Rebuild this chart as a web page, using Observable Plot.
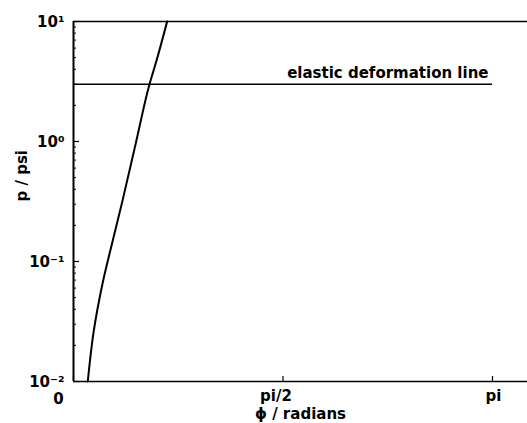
<!DOCTYPE html>
<html>
<head>
<meta charset="utf-8">
<script src="https://cdn.jsdelivr.net/npm/d3@7"></script>
<script src="https://cdn.jsdelivr.net/npm/@observablehq/plot@0.6"></script>
<style>
  html, body { margin: 0; padding: 0; background: #fff; }
  svg { display: block; }
</style>
</head>
<body>
<div id="chart"></div>
<script>
// Curve: pressure p (psi) versus angle phi (radians)
const curvePhi = [0.107, 0.152, 0.217, 0.294, 0.367, 0.470, 0.570, 0.622, 0.702];
const curveP   = [0.01, 0.0264, 0.065, 0.149, 0.32, 1.0, 3.0, 4.7, 10];
// Elastic deformation line
const elasticP = 3.0;
const elasticPhiEnd = Math.PI;
const elasticLabel = "elastic deformation line";
// Axis ticks
const yTicks = [0.01, 0.1, 1, 10];
const yTickLabels = ["10\u207B\u00B2", "10\u207B\u00B9", "10\u2070", "10\u00B9"];
const xTicks = [0, Math.PI / 2, Math.PI];
const xTickLabels = ["0", "pi/2", "pi"];
const xLabel = "\u03D5 / radians";
const yLabel = "p / psi";

const curve = curvePhi.map((x, i) => ({x, y: curveP[i]}));
const yMinor = [];
for (let e = -2; e < 1; e++) for (let m = 2; m <= 9; m++) yMinor.push(m * Math.pow(10, e));

const font = "DejaVu Sans, Liberation Sans, Arial, sans-serif";
const W = 527, H = 423;
const xMax = (W - 73) / ((492 - 73) / Math.PI);

const plot = Plot.plot({
  width: W,
  height: H,
  marginLeft: 73,
  marginRight: 0,
  marginTop: 21,
  marginBottom: 42,
  style: {fontFamily: font, fontSize: "14px", fontWeight: "bold", color: "#000", background: "#fff"},
  x: {domain: [0, xMax]},
  y: {type: "log", domain: [0.01, 10]},
  marks: [
    // frame lines
    Plot.ruleX([0], {stroke: "#000", strokeWidth: 2}),
    Plot.ruleY([0.01, 10], {stroke: "#000", strokeWidth: 1.6}),
    // ticks (inward)
    Plot.axisY({ticks: yMinor, tickSize: 3, dx: 3, text: null, label: null, stroke: "#000", strokeWidth: 1}),
    Plot.axisY({ticks: yTicks, tickSize: 6, dx: 6, text: null, label: null, stroke: "#000", strokeWidth: 1.2}),
    Plot.axisX({ticks: xTicks, tickSize: 5, dy: -5, text: null, label: null, stroke: "#000", strokeWidth: 1.2}),
    // y tick labels
    Plot.text(yTicks, {x: 0, y: d => d, text: (d, i) => yTickLabels[i], textAnchor: "end", dx: -9, dy: 1, fontSize: 15}),
    // x tick labels
    Plot.text([xTicks[0]], {x: d => d, y: 0.01, text: () => xTickLabels[0], dx: -15, dy: 18, fontSize: 15}),
    Plot.text([xTicks[1]], {x: d => d, y: 0.01, text: () => xTickLabels[1], dx: -7, dy: 15, fontSize: 15}),
    Plot.text([xTicks[2]], {x: d => d, y: 0.01, text: () => xTickLabels[2], dx: 1, dy: 15, fontSize: 15}),
    // axis labels
    Plot.text([xLabel], {frameAnchor: "bottom", text: d => d, dy: 37, fontSize: 15}),
    Plot.text([yLabel], {frameAnchor: "left", text: d => d, dx: -51, rotate: -90, fontSize: 15}),
    // elastic deformation line
    Plot.ruleY([elasticP], {x1: 0, x2: elasticPhiEnd, stroke: "#000", strokeWidth: 1.6}),
    Plot.text([elasticP], {x: elasticPhiEnd, y: d => d, text: () => elasticLabel, textAnchor: "end", dx: -4, dy: -11, fontSize: 15}),
    // curve
    Plot.line(curve, {x: "x", y: "y", stroke: "#000", strokeWidth: 2, curve: "monotone-y"})
  ]
});
document.getElementById("chart").appendChild(plot);
</script>
</body>
</html>
